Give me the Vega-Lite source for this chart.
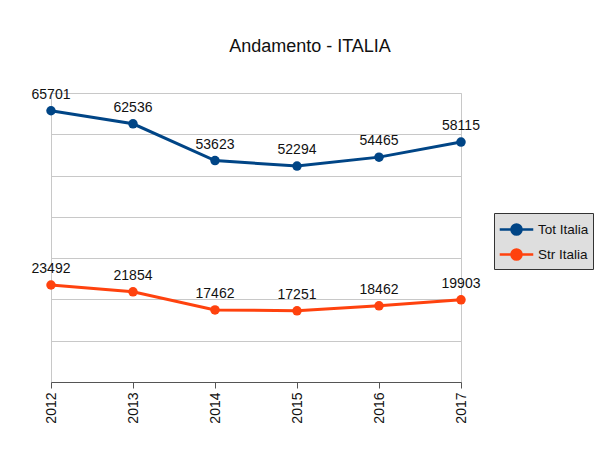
{
  "$schema": "https://vega.github.io/schema/vega-lite/v6.json",
  "width": 410,
  "height": 289,
  "autosize": {"type": "none"},
  "padding": {"left": 51, "top": 93, "right": 141, "bottom": 73},
  "background": "white",
  "title": {"text": "Andamento - ITALIA", "fontSize": 18, "font": "Liberation Sans", "fontWeight": "normal", "color": "#111", "anchor": "middle", "dx": 54, "offset": 32},
  "data": {"values": [
    {"year": "2012", "series": "Tot Italia", "value": 65701},
    {"year": "2013", "series": "Tot Italia", "value": 62536},
    {"year": "2014", "series": "Tot Italia", "value": 53623},
    {"year": "2015", "series": "Tot Italia", "value": 52294},
    {"year": "2016", "series": "Tot Italia", "value": 54465},
    {"year": "2017", "series": "Tot Italia", "value": 58115},
    {"year": "2012", "series": "Str Italia", "value": 23492},
    {"year": "2013", "series": "Str Italia", "value": 21854},
    {"year": "2014", "series": "Str Italia", "value": 17462},
    {"year": "2015", "series": "Str Italia", "value": 17251},
    {"year": "2016", "series": "Str Italia", "value": 18462},
    {"year": "2017", "series": "Str Italia", "value": 19903}
  ]},
  "encoding": {
    "x": {"field": "year", "type": "ordinal", "scale": {"type": "point", "padding": 0},
      "axis": {"title": null, "labelAngle": -90, "labelFontSize": 14, "labelFont": "Liberation Sans", "labelColor": "#111", "domainColor": "#555", "tickColor": "#555", "tickSize": 6, "labelPadding": 4, "grid": false}},
    "y": {"field": "value", "type": "quantitative", "scale": {"domain": [0, 70000], "nice": false},
      "axis": {"title": null, "labels": false, "ticks": false, "domain": false, "values": [0, 10000, 20000, 30000, 40000, 50000, 60000, 70000], "gridColor": "#c8c8c8", "gridOpacity": 1}},
    "color": {"field": "series", "type": "nominal",
      "scale": {"domain": ["Tot Italia", "Str Italia"], "range": ["#004586", "#ff420e"]},
      "legend": {"title": null, "orient": "none", "legendX": 443, "legendY": 120,
        "fillColor": "#dedede", "strokeColor": "#333", "padding": 4,
        "labelFontSize": 13.5, "labelFont": "Liberation Sans", "labelColor": "#111", "labelOffset": 9,
        "symbolType": "M-1.5,0H1.5M0.45,0A0.45,0.45,0,1,1,-0.45,0A0.45,0.45,0,1,1,0.45,0Z",
        "symbolSize": 500, "symbolStrokeWidth": 2.5, "rowPadding": 2, "symbolOffset": 6,
        "encode": {"symbols": {"update": {"fill": {"scale": "color", "field": "value"}, "fillOpacity": {"value": 1}}}}}}
  },
  "layer": [
    {"mark": {"type": "line", "strokeWidth": 3, "point": {"filled": true, "size": 90, "opacity": 1}}},
    {"mark": {"type": "text", "baseline": "bottom", "dy": -9, "fontSize": 14, "font": "Liberation Sans", "color": "#111"},
      "encoding": {"text": {"field": "value", "type": "quantitative", "format": "d"}, "color": {"value": "#111"}}}
  ],
  "config": {"view": {"stroke": "#c8c8c8", "strokeWidth": 1}}
}
